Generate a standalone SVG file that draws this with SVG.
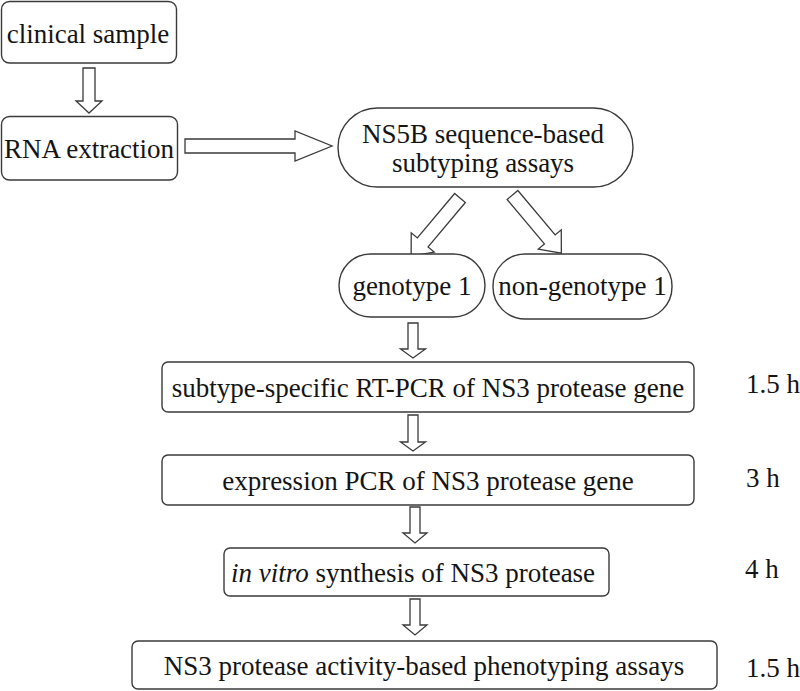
<svg xmlns="http://www.w3.org/2000/svg" width="800" height="691" viewBox="0 0 800 691">
<style>
  .box { fill: #ffffff; stroke: #3a3a3a; stroke-width: 1.4; }
  .arr { fill: #ffffff; stroke: #3a3a3a; stroke-width: 1.3; stroke-linejoin: miter; }
  text { font-family: 'Liberation Serif', 'Times New Roman', Times, serif; font-size: 27px; fill: #141414; }
  .c { text-anchor: middle; }
</style>
<rect width="800" height="691" fill="#ffffff"/>

<g id="connectors">
  <path class="arr" d="M83,68 H95 V101 H102 L89,113 L76,101 H83 Z"/>
  <path class="arr" d="M185,139 H295 V131 L332,146 L295,161 V153 H185 Z"/>
  <path class="arr" transform="translate(460,198) rotate(130)" d="M0,-7 L58,-7 L58,-15 L76,0 L58,15 L58,7 L0,7 Z"/>
  <path class="arr" transform="translate(512.5,195) rotate(50)" d="M0,-7 L58,-7 L58,-15 L76,0 L58,15 L58,7 L0,7 Z"/>
  <path class="arr" d="M408,323 H418 V349 H425.5 L413,358 L400.5,349 H408 Z"/>
  <path class="arr" d="M408,415 H418 V442 H425.5 L413,451 L400.5,442 H408 Z"/>
  <path class="arr" d="M410,507 H420 V533 H427 L415,543 L403,533 H410 Z"/>
  <path class="arr" d="M410,599 H420 V625 H427 L415,635 L403,625 H410 Z"/>
</g>

<g id="clinical-sample">
  <rect class="box" x="1.5" y="1.5" width="175" height="61.5" rx="8"/>
  <text class="c" x="88" y="43">clinical sample</text>
</g>

<g id="rna-extraction">
  <rect class="box" x="1.5" y="116.5" width="176" height="63.5" rx="8"/>
  <text class="c" x="89" y="158">RNA extraction</text>
</g>

<g id="ns5b-subtyping">
  <rect class="box" x="338" y="108" width="295" height="79" rx="39.5"/>
  <text class="c" x="483" y="143">NS5B sequence-based</text>
  <text class="c" x="483" y="172">subtyping assays</text>
</g>

<g id="genotype-1">
  <rect class="box" x="339" y="254" width="146" height="63" rx="31.5"/>
  <text class="c" x="412" y="295">genotype 1</text>
</g>

<g id="non-genotype-1">
  <rect class="box" x="493" y="254" width="179" height="65" rx="32"/>
  <text class="c" x="582.5" y="295">non-genotype 1</text>
</g>

<g id="rt-pcr">
  <rect class="box" x="162" y="362" width="532" height="50" rx="6"/>
  <text class="c" x="428" y="397">subtype-specific RT-PCR of NS3 protease gene</text>
  <text x="746" y="393">1.5 h</text>
</g>

<g id="expression-pcr">
  <rect class="box" x="162" y="455" width="532" height="50" rx="6"/>
  <text class="c" x="428" y="490">expression PCR of NS3 protease gene</text>
  <text x="746" y="487">3 h</text>
</g>

<g id="in-vitro-synthesis">
  <rect class="box" x="224" y="548" width="385" height="48" rx="6"/>
  <text class="c" x="413" y="582"><tspan font-style="italic">in vitro</tspan> synthesis of NS3 protease</text>
  <text x="745" y="578">4 h</text>
</g>

<g id="phenotyping-assays">
  <rect class="box" x="132" y="641" width="585" height="48" rx="6"/>
  <text class="c" x="424" y="675">NS3 protease activity-based phenotyping assays</text>
  <text x="746" y="677">1.5 h</text>
</g>
</svg>
